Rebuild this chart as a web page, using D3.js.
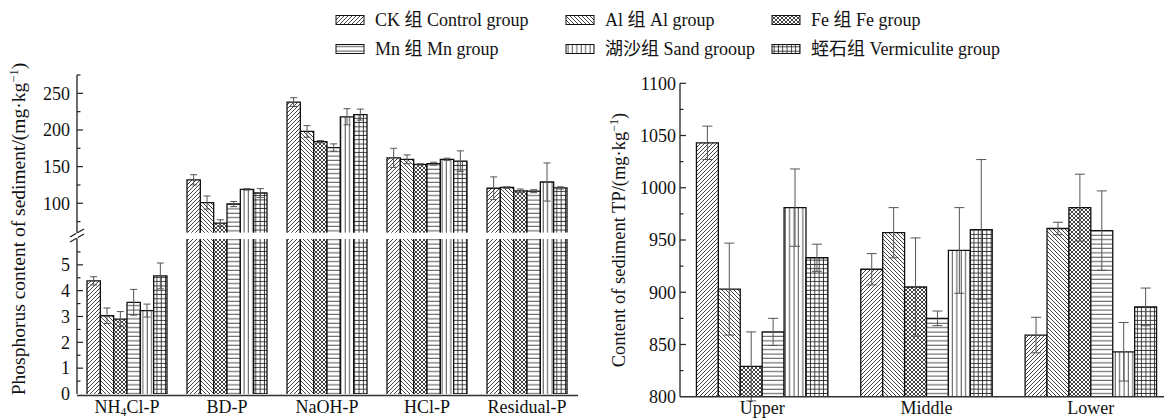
<!DOCTYPE html>
<html><head><meta charset="utf-8">
<script src="https://cdn.jsdelivr.net/npm/d3@7/dist/d3.min.js"></script>
<style>
body{margin:0;background:#fff}
text{font-family:"Liberation Serif","Noto Sans CJK SC",serif;fill:#111}
</style>
</head><body><svg id="c" width="1164" height="420"></svg>
<script>
// ---------- data ----------
const groupNames = ["CK 组 Control group","Al 组 Al group","Fe 组 Fe group","Mn 组 Mn group","湖沙组 Sand grooup","蛭石组 Vermiculite group"];
const groupKeys = ["CK","Al","Fe","Mn","Sand","Verm"];
const fractions = ["NH4Cl-P","BD-P","NaOH-P","HCl-P","Residual-P"];
const fracCK   = [4.38, 132, 238, 162, 120.5];
const fracAl   = [3.03, 101, 198, 160, 121.5];
const fracFe   = [2.90, 73, 184, 153, 117];
const fracMn   = [3.55, 99, 176, 154, 116.5];
const fracSand = [3.23, 119, 218, 160, 129];
const fracVerm = [4.57, 114, 221, 157.5, 121];
const fracErrCK   = [0.16, 7, 6, 13, 15.5];
const fracErrAl   = [0.30, 9, 8, 6, 1];
const fracErrFe   = [0.29, 4.5, 1.5, 1, 2.5];
const fracErrMn   = [0.50, 3.5, 5, 2, 2];
const fracErrSand = [0.25, 1, 11, 1.5, 26];
const fracErrVerm = [0.50, 6, 7.5, 14, 1.5];
const leftTicksLow = [0,1,2,3,4,5];
const leftTicksHigh = [100,150,200,250];

const layers = ["Upper","Middle","Lower"];
const tpCK   = [1043, 922, 859];
const tpAl   = [903, 957, 961];
const tpFe   = [829, 905, 981];
const tpMn   = [862, 875, 959];
const tpSand = [981, 940, 843];
const tpVerm = [933, 960, 886];
const tpErrCK   = [16, 15, 17];
const tpErrAl   = [44, 24, 6];
const tpErrFe   = [33, 47, 32];
const tpErrMn   = [13, 7, 38];
const tpErrSand = [37, 41, 28];
const tpErrVerm = [13, 67, 18];
const rightTicks = [800,850,900,950,1000,1050,1100];

const fracVals = [fracCK,fracAl,fracFe,fracMn,fracSand,fracVerm];
const fracErrs = [fracErrCK,fracErrAl,fracErrFe,fracErrMn,fracErrSand,fracErrVerm];
const tpVals = [tpCK,tpAl,tpFe,tpMn,tpSand,tpVerm];
const tpErrs = [tpErrCK,tpErrAl,tpErrFe,tpErrMn,tpErrSand,tpErrVerm];

// ---------- setup ----------
const svg = d3.select("#c");
svg.append("rect").attr("width",1164).attr("height",420).attr("fill","#fff");
const defs = svg.append("defs");
const PS = "#222", PW = 0.85;
function pat(id, w, h, paths){
  const p = defs.append("pattern").attr("id",id).attr("patternUnits","userSpaceOnUse").attr("width",w).attr("height",h);
  p.append("rect").attr("width",w).attr("height",h).attr("fill","#fff");
  paths.forEach(d=>p.append("path").attr("d",d).attr("stroke",PS).attr("stroke-width",PW).attr("fill","none"));
}
pat("p-CK",4,4,["M-1,1 l2,-2 M0,4 l4,-4 M3,5 l2,-2"]);
pat("p-Al",4,4,["M-1,3 l2,2 M0,0 l4,4 M3,-1 l2,2"]);
pat("p-Fe",4,4,["M-1,1 l2,-2 M0,4 l4,-4 M3,5 l2,-2","M-1,3 l2,2 M0,0 l4,4 M3,-1 l2,2"]);
pat("p-Mn",4,4.4,["M0,2 H4"]);
pat("p-Sand",4.4,4,["M2,0 V4"]);
pat("p-Verm",4.3,4.3,["M0,2.1 H4.3","M2.1,0 V4.3"]);
const fillOf = k => `url(#p-${k})`;

function drawBar(g, x, w, yTop, yBot, key, edges){
  g.append("rect").attr("x",x).attr("y",yTop).attr("width",w).attr("height",Math.max(0,yBot-yTop))
   .attr("fill",fillOf(key)).attr("stroke","none");
  let d = `M${x},${yBot} V${yTop} `;
  if (edges.top) d += `H${x+w} `; else d += `M${x+w},${yTop} `;
  d += `V${yBot}`;
  if (edges.bottom) d += ` H${x}`;
  g.append("path").attr("d",d).attr("fill","none").attr("stroke","#111").attr("stroke-width",1.3);
}
function errBar(g, cx, y1, y2, cap){
  g.append("path").attr("d",`M${cx},${y1} V${y2} M${cx-cap/2},${y1} H${cx+cap/2} M${cx-cap/2},${y2} H${cx+cap/2}`)
   .attr("stroke","#555").attr("stroke-width",1).attr("fill","none");
}
function supText(t, parts, size){
  parts.forEach(p=>{
    const s = t.append("tspan").text(p.t);
    if (p.sup) s.attr("baseline-shift","super").attr("font-size",size*0.65);
    if (p.sub) s.attr("baseline-shift","-3").attr("font-size",size*0.65);
  });
}
const FS = 18;

// ---------- left chart ----------
const L = svg.append("g");
const xL = d3.scaleBand().domain(fractions).range([77,577]).paddingInner(0.2).paddingOuter(0.1);
const xLi = d3.scaleBand().domain(groupKeys).range([0,xL.bandwidth()]);
const yLow = d3.scaleLinear().domain([0,6]).range([394,239]);
const yHigh = d3.scaleLinear().domain([60,275]).range([232.6,75]);

fractions.forEach((f,fi)=>{
  groupKeys.forEach((k,gi)=>{
    const v = fracVals[gi][fi], e = fracErrs[gi][fi];
    const x = xL(f)+xLi(k), w = xLi.bandwidth();
    if (fi===0){
      drawBar(L, x, w, yLow(v), yLow(0), k, {top:true,bottom:false});
      errBar(L, x+w/2, yLow(v+e), yLow(v-e), 7);
    } else {
      drawBar(L, x, w, yLow(6), yLow(0), k, {top:false,bottom:false});
      drawBar(L, x, w, yHigh(v), yHigh(60), k, {top:true,bottom:false});
      errBar(L, x+w/2, yHigh(v+e), yHigh(v-e), 7);
    }
  });
});
// axes
L.append("path").attr("d",`M77,${yLow(0)} V${yLow(6)} M77,${yHigh(60)} V${yHigh(275)}`).attr("stroke","#222").attr("stroke-width",1.3);
L.append("path").attr("d",`M77,395.5 H578`).attr("stroke","#333").attr("stroke-width",1.5);
// break marks
L.append("path").attr("d","M70,237 L84,229 M70,242 L84,234").attr("stroke","#222").attr("stroke-width",1.3);
L.append("path").attr("d","M76.3,233 L77.7,233 L77.7,238 L76.3,238Z").attr("fill","#fff");
// ticks
d3.range(0.5,6,0.5).forEach(v=>{
  const maj = Number.isInteger(v);
  L.append("line").attr("x1",77).attr("x2",77+(maj?6:3.5)).attr("y1",yLow(v)).attr("y2",yLow(v)).attr("stroke","#222").attr("stroke-width",1.2);
});
d3.range(75,276,25).forEach(v=>{
  const maj = v%50===0;
  L.append("line").attr("x1",77).attr("x2",77+(maj?6:3.5)).attr("y1",yHigh(v)).attr("y2",yHigh(v)).attr("stroke","#222").attr("stroke-width",1.2);
});
leftTicksLow.forEach(v=>L.append("text").attr("x",70).attr("y",yLow(v)).attr("dy","0.35em").attr("text-anchor","end").attr("font-size",FS).text(v));
leftTicksHigh.forEach(v=>L.append("text").attr("x",70).attr("y",yHigh(v)).attr("dy","0.35em").attr("text-anchor","end").attr("font-size",FS).text(v));
// category labels
fractions.forEach(f=>{
  const t = L.append("text").attr("x",xL(f)+xL.bandwidth()/2).attr("y",413).attr("text-anchor","middle").attr("font-size",FS);
  if (f==="NH4Cl-P") supText(t,[{t:"NH"},{t:"4",sub:true},{t:"Cl-P"}],FS);
  else t.text(f);
});
// y title
{
  const t = L.append("text").attr("transform","translate(25,229) rotate(-90)").attr("text-anchor","middle").attr("font-size",19.5);
  supText(t,[{t:"Phosphorus content of sediment/(mg·kg"},{t:"−1",sup:true},{t:")"}],19.5);
}

// ---------- right chart ----------
const R = svg.append("g");
const xR = d3.scaleBand().domain(layers).range([680,1173]).paddingInner(0.2).paddingOuter(0.1);
const xRi = d3.scaleBand().domain(groupKeys).range([0,xR.bandwidth()]);
const yR = d3.scaleLinear().domain([800,1100]).range([396.7,83.3]);
layers.forEach((l,li)=>{
  groupKeys.forEach((k,gi)=>{
    const v = tpVals[gi][li], e = tpErrs[gi][li];
    const x = xR(l)+xRi(k), w = xRi.bandwidth();
    drawBar(R, x, w, yR(v), yR(800), k, {top:true,bottom:false});
    errBar(R, x+w/2, yR(v+e), yR(v-e), 10);
  });
});
R.append("path").attr("d",`M680,${yR(800)} V${yR(1100)}`).attr("stroke","#222").attr("stroke-width",1.3);
R.append("path").attr("d",`M680,${yR(800)} H1164`).attr("stroke","#333").attr("stroke-width",1.5);
d3.range(825,1101,25).forEach(v=>{
  const maj = v%50===0;
  R.append("line").attr("x1",680).attr("x2",680+(maj?6:3.5)).attr("y1",yR(v)).attr("y2",yR(v)).attr("stroke","#222").attr("stroke-width",1.2);
});
rightTicks.forEach(v=>R.append("text").attr("x",676).attr("y",yR(v)).attr("dy","0.35em").attr("text-anchor","end").attr("font-size",FS).text(v));
layers.forEach(l=>R.append("text").attr("x",xR(l)+xR.bandwidth()/2).attr("y",414).attr("text-anchor","middle").attr("font-size",FS).text(l));
{
  const t = R.append("text").attr("transform","translate(625,240) rotate(-90)").attr("text-anchor","middle").attr("font-size",18.5);
  supText(t,[{t:"Content of sediment TP/(mg·kg"},{t:"−1",sup:true},{t:")"}],18.5);
}

// ---------- legend ----------
const legX = [336,566,772], legY = [20,49];
groupKeys.forEach((k,i)=>{
  const col = i%3, row = Math.floor(i/3);
  const g = svg.append("g").attr("transform",`translate(${legX[col]},${legY[row]})`);
  g.append("rect").attr("x",0).attr("y",-4.5).attr("width",28).attr("height",9).attr("fill",fillOf(k)).attr("stroke","#111").attr("stroke-width",1);
  g.append("text").attr("x",39).attr("y",0).attr("dy","0.35em").attr("font-size",FS).text(groupNames[i]);
});
</script></body></html>
